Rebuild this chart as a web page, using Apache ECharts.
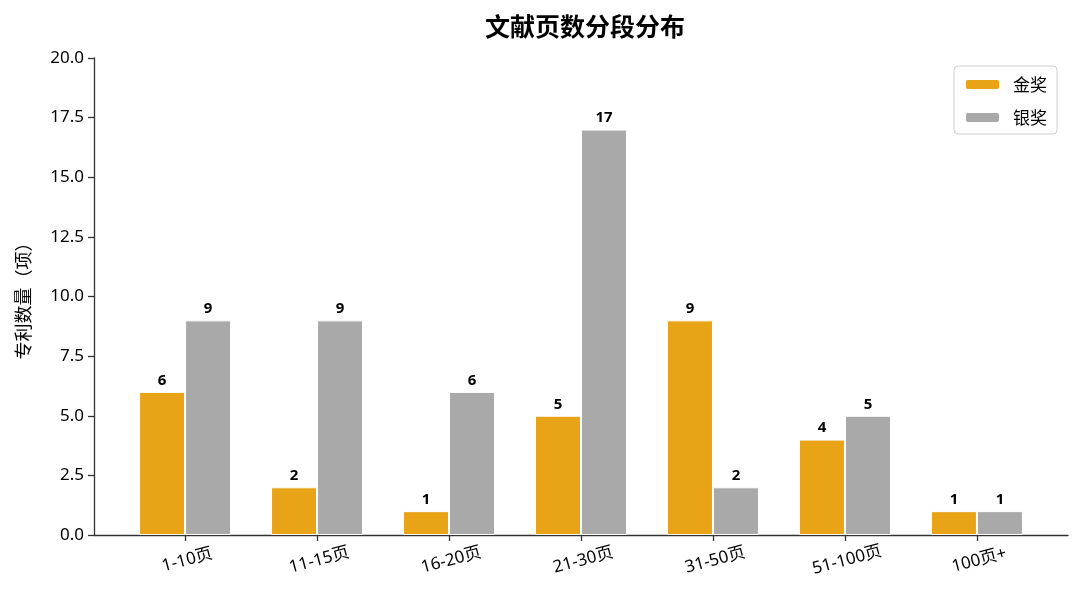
<!DOCTYPE html>
<html>
<head>
<meta charset="utf-8">
<script src="https://cdn.jsdelivr.net/npm/echarts@6/dist/echarts.min.js"></script>
<style>
  html, body { margin: 0; padding: 0; background: #fff; }
  #chart { width: 1080px; height: 599px; }
</style>
</head>
<body>
<div id="chart"></div>
<script>
// page-range categories and patent counts per award
var categories = ['1-10页', '11-15页', '16-20页', '21-30页', '31-50页', '51-100页', '100页+'];
var goldCounts = [6, 2, 1, 5, 9, 4, 1];
var silverCounts = [9, 9, 6, 17, 2, 5, 1];
var yTicks = [0, 2.5, 5, 7.5, 10, 12.5, 15, 17.5, 20];

var FONT = '"Noto Sans", "Noto Sans CJK SC", sans-serif';
var CJK = '"Noto Sans CJK SC", sans-serif';

// pair each value with its category index so bars sit on the value x axis
function toPoints(values) {
  return values.map(function (v, i) { return [i, v]; });
}

var myChart = echarts.init(document.getElementById('chart'));

var labelStyle = {
  show: true,
  position: 'top',
  distance: 4,
  color: '#000',
  fontWeight: 'bold',
  fontSize: 15,
  fontFamily: FONT
};

var option = {
  backgroundColor: '#fff',
  animation: false,
  title: {
    text: '文献页数分段分布',
    left: 580,
    top: 9,
    textAlign: 'center',
    textStyle: { fontFamily: CJK, fontSize: 25, fontWeight: 'bold', color: '#000' }
  },
  legend: {
    orient: 'vertical',
    right: 23,
    top: 66,
    padding: [10, 10, 8, 10],
    itemWidth: 35,
    itemHeight: 11,
    itemGap: 16,
    borderColor: '#d0d0d0',
    borderWidth: 1,
    borderRadius: 4,
    textStyle: { fontFamily: CJK, fontSize: 17, color: '#000', padding: [0, 0, 0, 8] },
    data: ['金奖', '银奖']
  },
  grid: { left: 94, right: 12, top: 58, bottom: 64 },
  xAxis: {
    type: 'value',
    min: -0.69,
    max: 6.69,
    splitLine: { show: false },
    axisLine: { show: true, lineStyle: { color: '#333', width: 1.3 } },
    axisTick: { show: true, customValues: [0, 1, 2, 3, 4, 5, 6], length: 6, lineStyle: { color: '#333', width: 1.3 } },
    axisLabel: {
      customValues: [0, 1, 2, 3, 4, 5, 6],
      formatter: function (v) { return categories[Math.round(v)]; },
      rotate: 15,
      align: 'center',
      verticalAlign: 'top',
      margin: 17,
      fontFamily: FONT,
      fontSize: 17,
      color: '#000'
    }
  },
  yAxis: {
    type: 'value',
    min: 0,
    max: 20,
    interval: 2.5,
    name: '专利数量（项）',
    nameLocation: 'middle',
    nameGap: 62,
    nameTextStyle: { fontFamily: CJK, fontSize: 18, color: '#000' },
    splitLine: { show: false },
    axisLine: { show: true, onZero: false, lineStyle: { color: '#333', width: 1.3 } },
    axisTick: { show: true, length: 6, lineStyle: { color: '#333', width: 1.3 } },
    axisLabel: {
      formatter: function (v) { return v.toFixed(1); },
      margin: 10,
      fontFamily: FONT,
      fontSize: 17,
      color: '#000'
    }
  },
  series: [
    {
      name: '金奖',
      type: 'bar',
      barWidth: 46,
      barGap: '0%',
      data: toPoints(goldCounts),
      itemStyle: { color: '#E8A317', borderColor: '#fff', borderWidth: 1 },
      label: labelStyle
    },
    {
      name: '银奖',
      type: 'bar',
      barWidth: 46,
      barGap: '0%',
      data: toPoints(silverCounts),
      itemStyle: { color: '#A9A9A9', borderColor: '#fff', borderWidth: 1 },
      label: labelStyle
    }
  ]
};

myChart.setOption(option);
</script>
</body>
</html>
